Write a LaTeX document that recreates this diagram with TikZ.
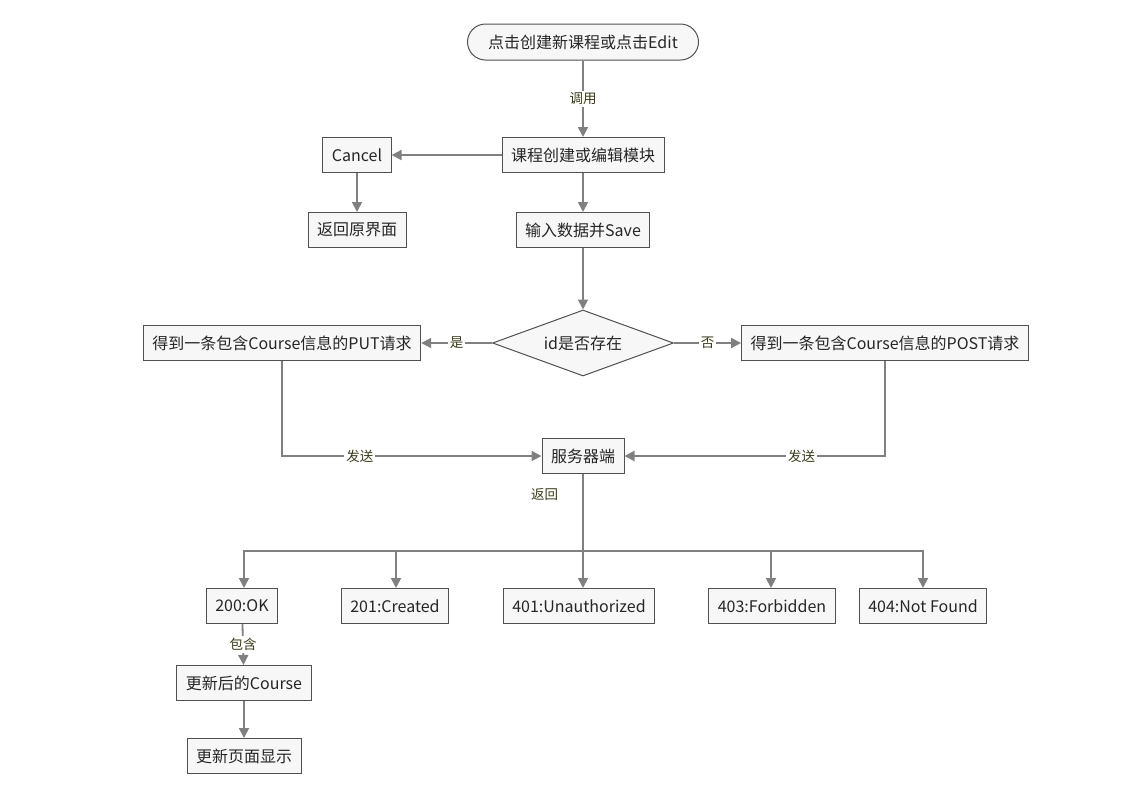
\documentclass[tikz,border=0pt]{standalone}
\usepackage{fontspec}
\setmainfont{Noto Sans CJK SC}
\usetikzlibrary{shapes.geometric,arrows.meta}
\definecolor{linegray}{HTML}{808080}
\definecolor{boxborder}{HTML}{505050}
\definecolor{boxfill}{HTML}{F7F7F7}
\definecolor{labeltext}{HTML}{3A3A1A}
\begin{document}
\begin{tikzpicture}[x=1pt,y=-1pt,
  box/.style={draw=boxborder, line width=1pt, fill=boxfill, minimum height=35pt,
    inner xsep=9pt, font=\fontsize{16}{19}\selectfont, text=black!85},
  conn/.style={draw=linegray, line width=1.8pt, -{Triangle[length=10pt,width=10pt]}},
  plain/.style={draw=linegray, line width=1.8pt},
  lbl/.style={fill=white, font=\fontsize{13.5}{16}\selectfont, text=labeltext, inner sep=2pt}]
\useasboundingbox (0,0) rectangle (1139,796);

\node[box, rounded corners=18pt, minimum width=231pt, minimum height=36pt] (start) at (583,42) {点击创建新课程或点击Edit};
\node[box] (module) at (583,155) {课程创建或编辑模块};
\node[box] (cancel) at (357,155) {Cancel};
\node[box] (back) at (357,230) {返回原界面};
\node[box] (input) at (583,230) {输入数据并Save};
\node[box, diamond, aspect=2.7, minimum width=181pt, minimum height=66pt, inner sep=0pt] (dec) at (583,343) {id是否存在};
\node[box] (put) at (282,343) {得到一条包含Course信息的PUT请求};
\node[box] (post) at (885,343) {得到一条包含Course信息的POST请求};
\node[box] (server) at (583,456) {服务器端};
\coordinate (bus) at (583,551);
\node[box] (ok) at (242,606) {200:OK};
\node[box] (created) at (395,606) {201:Created};
\node[box] (unauth) at (579,606) {401:Unauthorized};
\node[box] (forbid) at (772,606) {403:Forbidden};
\node[box] (notfound) at (923,606) {404:Not Found};
\node[box] (updated) at (244,683) {更新后的Course};
\node[box] (refresh) at (244,756) {更新页面显示};

\draw[conn] (start) -- node[lbl] {调用} (module);
\draw[conn] (module) -- (cancel);
\draw[conn] (cancel) -- (back);
\draw[conn] (module) -- (input);
\draw[conn] (input) -- (dec);
\draw[conn] (dec) -- node[lbl] {是} (put);
\draw[conn] (dec) -- node[lbl] {否} (post);
\draw[conn] (put.south) |- node[lbl, pos=0.65] {发送} (server.west);
\draw[conn] (post.south) |- node[lbl, pos=0.66] {发送} (server.east);
\draw[plain] (server.south) -- node[pos=0.26, left=22pt, lbl, fill=none] {返回} (bus);
\draw[conn] (bus) -| ([xshift=2pt]ok.north);
\draw[conn] (bus) -| ([xshift=1pt]created.north);
\draw[conn] (bus) -| ([xshift=4pt]unauth.north);
\draw[conn] (bus) -| ([xshift=-1pt]forbid.north);
\draw[conn] (bus) -| (notfound.north);
\draw[conn] (ok) -- node[lbl] {包含} (updated);
\draw[conn] (updated) -- (refresh);
\end{tikzpicture}
\end{document}
